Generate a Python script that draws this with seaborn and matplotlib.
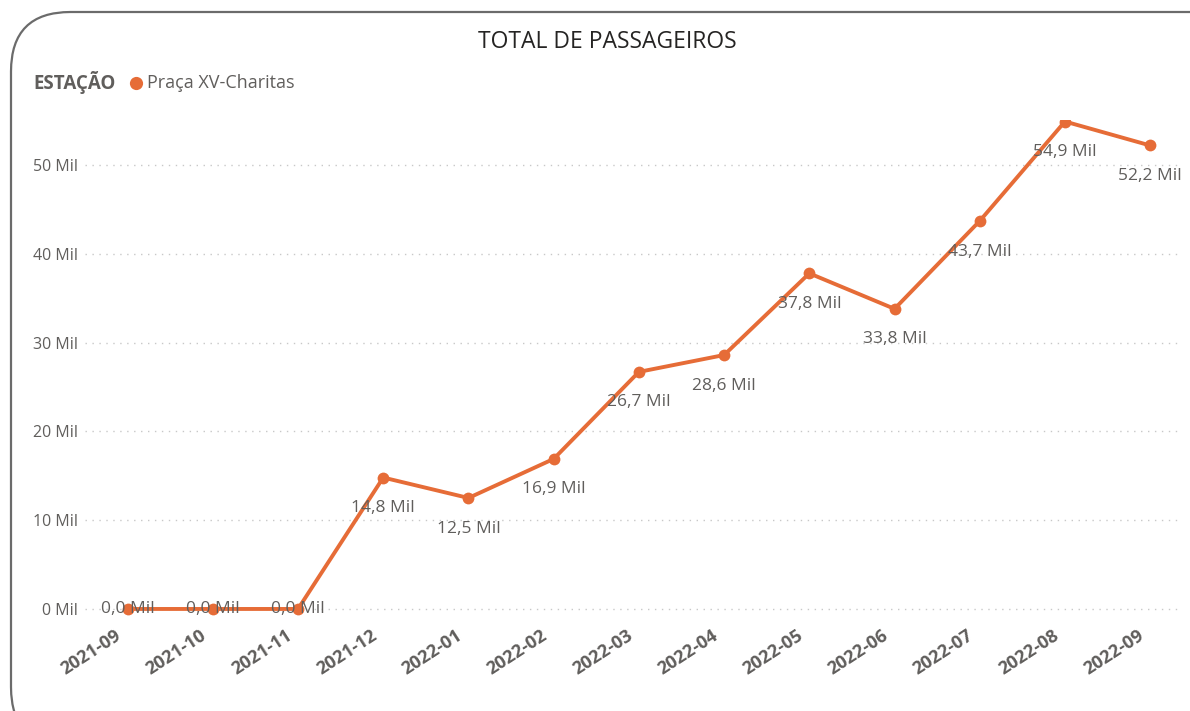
import numpy as np
import pandas as pd
import matplotlib.pyplot as plt
import seaborn as sns
from matplotlib.patches import FancyBboxPatch
from matplotlib.lines import Line2D

months = ["2021-09", "2021-10", "2021-11", "2021-12", "2022-01", "2022-02", "2022-03",
          "2022-04", "2022-05", "2022-06", "2022-07", "2022-08", "2022-09"]
passengers = [0.0, 0.0, 0.0, 14.8, 12.5, 16.9, 26.7, 28.6, 37.8, 33.8, 43.7, 54.9, 52.2]
y_ticks = [0, 10, 20, 30, 40, 50]

ORANGE = "#E66C37"
GRAY = "#605E5C"

sns.set_style("white")
plt.rcParams["font.family"] = ["Open Sans", "DejaVu Sans"]

df = pd.DataFrame({"pos": np.arange(len(months)), "mes": months, "valor": passengers})

fig = plt.figure(figsize=(11.9, 7.11), dpi=100)
ax = fig.add_axes([85 / 1190, 1 - 615 / 711, (1180 - 85) / 1190, (615 - 120) / 711])

# rounded card border
card = FancyBboxPatch((11 / 1190, -0.05), 1.2, 1 - 12 / 711 + 0.05,
                      boxstyle="round,pad=0,rounding_size=0.05",
                      transform=fig.transFigure, facecolor="none",
                      edgecolor="#6b6b6b", linewidth=1.6, mutation_aspect=1190 / 711)
fig.patches.append(card)

sns.lineplot(data=df, x="pos", y="valor", ax=ax, color=ORANGE, linewidth=2.8,
             marker="o", markersize=8.5, markeredgewidth=0)

for x, v in zip(df["pos"], df["valor"]):
    label = f"{v:.1f}".replace(".", ",") + " Mil"
    if v == 0:
        ax.annotate(label, (x, v), ha="center", va="center", fontsize=12.5, color=GRAY)
    else:
        ax.annotate(label, (x, v), xytext=(0, -22), textcoords="offset points",
                    ha="center", va="center", fontsize=12.5, color=GRAY)

ax.set_xlim(-0.5, 12.35)
ax.set_ylim(-0.68, 55.07)
ax.set_yticks(y_ticks)
ax.set_yticklabels([f"{t} Mil" for t in y_ticks], fontsize=11.5, color=GRAY)
ax.set_xticks(df["pos"])
ax.set_xticklabels([])
# rotated month labels, placed like Power BI (ending just left of each tick)
for x, m in zip(df["pos"], df["mes"]):
    ax.annotate(m, (x, 0), xycoords=("data", "axes fraction"), xytext=(-8, -19),
                textcoords="offset pixels", rotation=33, ha="right", va="center",
                rotation_mode="anchor", fontsize=13, fontweight="bold", color=GRAY,
                annotation_clip=False)
ax.tick_params(axis="both", length=0)
ax.tick_params(axis="y", pad=5)
ax.grid(axis="y", linestyle=(0, (1, 4)), color="#c8c8c8", linewidth=1)
ax.set_xlabel("")
ax.set_ylabel("")
sns.despine(ax=ax, left=True, bottom=True)

fig.text(607 / 1190, 1 - 42 / 711, "TOTAL DE PASSAGEIROS", ha="center", va="center",
         fontsize=16.5, color="#252423")
fig.text(33 / 1190, 1 - 83 / 711, "ESTAÇÃO", ha="left", va="center",
         fontsize=13.5, fontweight="bold", color=GRAY)
fig.add_artist(Line2D([136 / 1190], [1 - 83 / 711], marker="o", color=ORANGE,
                      markersize=9.5, markeredgewidth=0, transform=fig.transFigure))
fig.text(147 / 1190, 1 - 83 / 711, "Praça XV-Charitas", ha="left", va="center",
         fontsize=13, color=GRAY)

fig.savefig("out.png", dpi=100)
